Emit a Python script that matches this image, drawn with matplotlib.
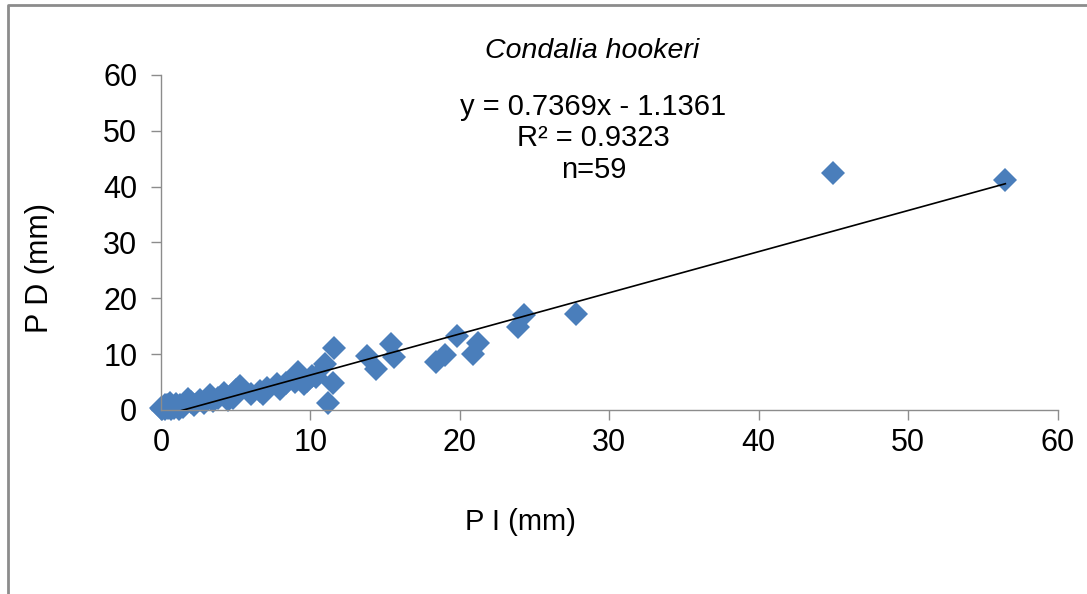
import matplotlib
matplotlib.use("Agg")
import matplotlib.pyplot as plt
from matplotlib.lines import Line2D
import numpy as np

plt.rcParams['font.family'] = ['Liberation Sans', 'DejaVu Sans']

# P I (mm) vs P D (mm), Condalia hookeri, n = 59
pi_mm = [56.5, 45.0, 27.8, 24.3, 23.9, 21.2, 20.9, 19.8, 19.0, 18.4,
         15.4, 15.6, 14.4, 13.8, 11.6, 11.5, 11.2, 11.0, 10.1, 9.8,
         9.2, 9.0, 8.4, 7.8, 7.1, 6.8, 6.6, 5.3, 5.0, 4.8,
         4.2, 3.8, 3.3, 2.9, 2.6, 2.0, 1.8, 1.3, 1.0, 0.8,
         0.6, 0.5, 0.4, 0.3, 0.2, 0.1, 0.0, 0.7, 1.5, 2.2,
         3.5, 4.5, 6.0, 8.0, 9.6, 0.9, 1.2, 0.3, 10.4]
pd_mm = [41.2, 42.4, 17.2, 17.0, 14.9, 12.0, 10.0, 13.3, 9.8, 8.6,
         11.8, 9.4, 7.4, 9.6, 11.0, 4.9, 1.2, 8.3, 6.0, 5.2,
         6.8, 5.0, 4.9, 4.6, 4.0, 2.8, 3.4, 4.2, 3.5, 2.2,
         3.0, 2.2, 2.6, 1.2, 1.8, 1.4, 2.0, 0.9, 1.1, 0.6,
         1.3, 0.3, 0.8, 0.1, 0.5, 0.2, 0.4, 0.1, 0.5, 0.9,
         1.5, 1.7, 2.8, 3.8, 4.6, 0.3, 0.2, 0.9, 5.8]

slope = 0.7369
intercept = -1.1361
r2 = 0.9323

ticks = [0, 10, 20, 30, 40, 50, 60]

fig = plt.figure(figsize=(10.87, 5.94), dpi=100)
ax = fig.add_axes([0.148, 0.310, 0.825, 0.564])

ax.plot(pi_mm, pd_mm, linestyle='none', marker='D', markersize=12,
        color='#4a7ebb', markeredgewidth=0, zorder=2, clip_on=False)

xfit = np.array([min(pi_mm), max(pi_mm)])
ax.plot(xfit, slope * xfit + intercept, color='black', linewidth=1.2, zorder=3)

ax.set_xlim(0, 60)
ax.set_ylim(0, 60)
ax.set_xticks(ticks)
ax.set_yticks(ticks)
ax.tick_params(axis='both', direction='out', length=7, width=1, color='#8c8c8c',
               labelsize=22)
ax.tick_params(axis='x', pad=6)
ax.tick_params(axis='y', pad=10)
for side in ['top', 'right']:
    ax.spines[side].set_visible(False)
for side in ['left', 'bottom']:
    ax.spines[side].set_color('#8c8c8c')
    ax.spines[side].set_linewidth(1)

fig.text(0.545, 0.914, 'Condalia hookeri', style='italic', fontsize=20.5,
         ha='center', va='center')
fig.text(0.546, 0.767,
         f'y = {slope}x - {abs(intercept)}\nR² = {r2}\nn={len(pi_mm)}',
         fontsize=21, ha='center', va='center', linespacing=1.15)
fig.text(0.479, 0.121, 'P I (mm)', fontsize=21, ha='center', va='center')
fig.text(0.037, 0.548, 'P D (mm)', fontsize=22, ha='center', va='center',
         rotation=90)

# outer frame (left and top edges)
fig.add_artist(Line2D([0.0075, 0.0075, 1.0], [0.0, 0.992, 0.992],
                      transform=fig.transFigure, color='#8c8c8c', linewidth=2))

fig.savefig('out.png', dpi=100)
